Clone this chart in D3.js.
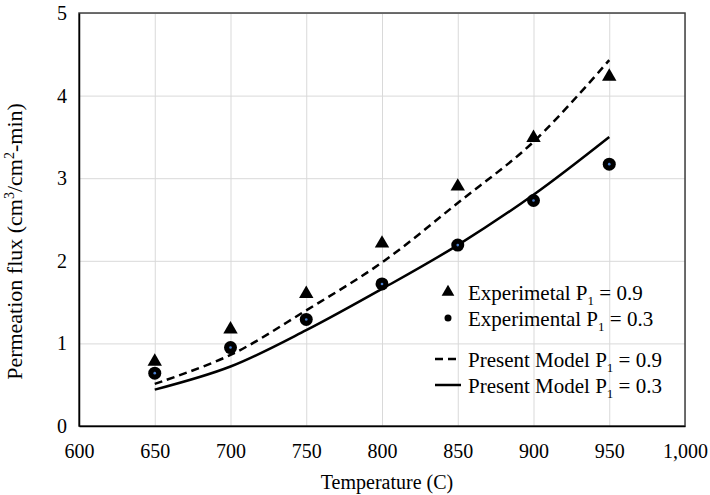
<!DOCTYPE html>
<html>
<head>
<meta charset="utf-8">
<script src="https://cdn.jsdelivr.net/npm/d3@7"></script>
<style>
  body { margin: 0; background: #fff; }
  text { font-family: "Liberation Serif", "Times New Roman", serif; fill: #000; }
</style>
</head>
<body>
<div id="chart"></div>
<script>
// data
const temps = [650, 700, 750, 800, 850, 900, 950];
const expP09 = [0.78, 1.17, 1.60, 2.21, 2.90, 3.49, 4.23];
const expP03 = [0.64, 0.95, 1.29, 1.72, 2.19, 2.73, 3.17];
const modelP09 = [0.51, 0.86, 1.40, 1.98, 2.70, 3.44, 4.43];
const modelP03 = [0.44, 0.72, 1.16, 1.66, 2.19, 2.80, 3.50];
const xTicks = [600, 650, 700, 750, 800, 850, 900, 950, 1000];
const yTicks = [0, 1, 2, 3, 4, 5];

const margin = {top: 13, right: 25, bottom: 69, left: 79},
    width = 710 - margin.left - margin.right,
    height = 495 - margin.top - margin.bottom;

const svg = d3.select("#chart")
  .append("svg")
    .attr("width", 710)
    .attr("height", 495)
  .append("g")
    .attr("transform", `translate(${margin.left},${margin.top})`);

const x = d3.scaleLinear().domain([600, 1000]).range([0, width]);
const y = d3.scaleLinear().domain([0, 5]).range([height, 0]);

// gridlines
svg.append("g")
  .call(d3.axisBottom(x).tickValues(xTicks).tickSize(height).tickFormat(""))
  .call(g => g.select(".domain").remove())
  .call(g => g.selectAll("line").attr("stroke", "#d9d9d9"));
svg.append("g")
  .call(d3.axisLeft(y).tickValues(yTicks).tickSize(-width).tickFormat(""))
  .call(g => g.select(".domain").remove())
  .call(g => g.selectAll("line").attr("stroke", "#d9d9d9"));

// plot border
svg.append("rect")
  .attr("width", width).attr("height", height)
  .attr("fill", "none").attr("stroke", "#404040").attr("stroke-width", 1.5);

// axes labels
const xAxis = svg.append("g")
  .attr("transform", `translate(0,${height})`)
  .call(d3.axisBottom(x).tickValues(xTicks).tickSize(0).tickPadding(18).tickFormat(d3.format(",")));
xAxis.select(".domain").attr("stroke", "#000").attr("stroke-width", 1.5);
xAxis.selectAll("text").style("font-size", "20px").style("font-family", "Liberation Serif");

const yAxis = svg.append("g")
  .call(d3.axisLeft(y).tickValues(yTicks).tickSize(0).tickPadding(12).tickFormat(d3.format("d")));
yAxis.select(".domain").attr("stroke", "#000").attr("stroke-width", 1.5);
yAxis.selectAll("text").style("font-size", "20px").style("font-family", "Liberation Serif");

// model lines
const line = d3.line()
  .x((d, i) => x(temps[i]))
  .y(d => y(d))
  .curve(d3.curveCatmullRom);

svg.append("path").datum(modelP09)
  .attr("d", line).attr("fill", "none")
  .attr("stroke", "#000").attr("stroke-width", 2.5)
  .attr("stroke-dasharray", "8,5");
svg.append("path").datum(modelP03)
  .attr("d", line).attr("fill", "none")
  .attr("stroke", "#000").attr("stroke-width", 2.5);

// experimental points
const tri = d3.symbol().type(d3.symbolTriangle).size(90);
svg.append("g").selectAll("path")
  .data(expP09)
  .join("path")
    .attr("d", tri)
    .attr("transform", (d, i) => `translate(${x(temps[i])},${y(d)})`)
    .attr("fill", "#000");

const dots = svg.append("g").selectAll("g")
  .data(expP03)
  .join("g")
    .attr("transform", (d, i) => `translate(${x(temps[i])},${y(d)})`);
dots.append("circle").attr("r", 6.5).attr("fill", "#000");
dots.append("circle").attr("r", 1.3).attr("fill", "#4a7fd0");

// axis titles
svg.append("text")
  .attr("x", 308).attr("y", 476)
  .attr("text-anchor", "middle")
  .style("font-size", "20px")
  .text("Temperature (C)");

const yt = svg.append("text")
  .attr("transform", `translate(-57,${height / 2 + 22}) rotate(-90)`)
  .attr("text-anchor", "middle")
  .style("font-size", "22px");
yt.append("tspan").text("Permeation flux (cm");
yt.append("tspan").attr("dy", -8).style("font-size", "14px").text("3");
yt.append("tspan").attr("dy", 8).text("/cm");
yt.append("tspan").attr("dy", -8).style("font-size", "14px").text("2");
yt.append("tspan").attr("dy", 8).text("-min)");

// handmade legend
const legendItems = [
  {label: "Experimetal P", val: " = 0.9", type: "tri", y: 279},
  {label: "Experimental P", val: " = 0.3", type: "circle", y: 305},
  {label: "Present Model P", val: " = 0.9", type: "dash", y: 346},
  {label: "Present Model P", val: " = 0.3", type: "solid", y: 372}
];
const lg = svg.append("g").attr("transform", "translate(356,0)");
legendItems.forEach(it => {
  if (it.type === "tri") {
    lg.append("path").attr("d", d3.symbol().type(d3.symbolTriangle).size(70))
      .attr("transform", `translate(13,${it.y})`).attr("fill", "#000");
  } else if (it.type === "circle") {
    lg.append("circle").attr("cx", 13).attr("cy", it.y).attr("r", 3.5)
      .attr("fill", "#000");
  } else {
    lg.append("line").attr("x1", 0).attr("x2", 26).attr("y1", it.y).attr("y2", it.y)
      .attr("stroke", "#000").attr("stroke-width", 2.5)
      .attr("stroke-dasharray", it.type === "dash" ? "8,5" : null);
  }
  const t = lg.append("text").attr("x", 33).attr("y", it.y + 7.5).style("font-size", "21px");
  t.append("tspan").text(it.label);
  t.append("tspan").attr("dy", 5).style("font-size", "13px").text("1");
  t.append("tspan").attr("dy", -5).text(it.val);
});
</script>
</body>
</html>
